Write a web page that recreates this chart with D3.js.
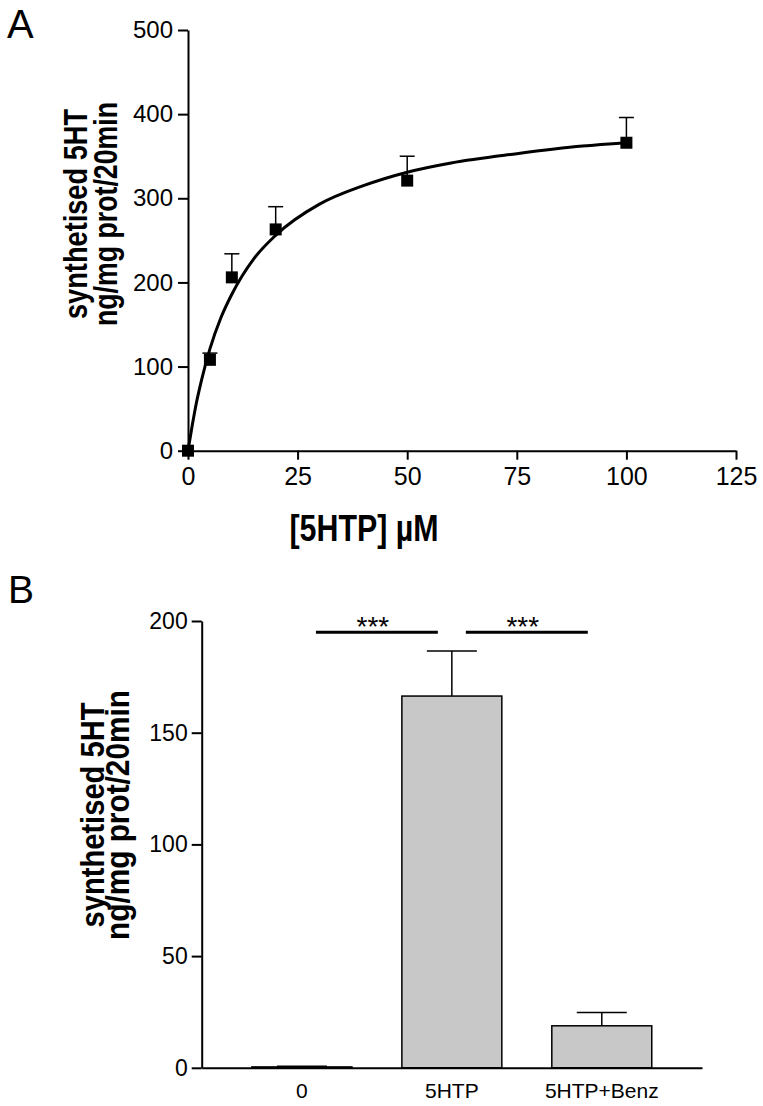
<!DOCTYPE html>
<html>
<head>
<meta charset="utf-8">
<script src="https://cdn.jsdelivr.net/npm/d3@7"></script>
<style>
  body { margin: 0; background: #fff; }
  svg { display: block; font-family: "Liberation Sans", Arial, sans-serif; }
</style>
</head>
<body>
<div id="chart"></div>
<script>
// panel A: 5HT synthesis vs [5HTP]
const concA = [0, 5, 10, 20, 50, 100];
const meanA = [0, 108, 206, 263, 321, 366];
const semA = [0, 8, 28, 27, 29, 30];
// fitted curve
const curveConc = [0, 1, 2, 3, 5, 7.5, 10, 15, 20, 30, 40, 50, 60, 75, 90, 100];
const curveVal = [0, 31, 59, 82, 121, 158, 186, 228, 256, 293, 315, 331, 342, 353, 362, 366];
const ticksAX = [0, 25, 50, 75, 100, 125];
const ticksAY = [0, 100, 200, 300, 400, 500];

// panel B: bars
const groups = ["0", "5HTP", "5HTP+Benz"];
const meanB = [0.4, 166.4, 18.8];
const semB = [0.3, 20.2, 6.0];
const ticksBY = [0, 50, 100, 150, 200];
const sigPairs = [["0", "5HTP"], ["5HTP", "5HTP+Benz"]];
const sigLabel = "***";
const sigValue = 195;

const WIDTH = 763;
const HEIGHT = 1106;

const svg = d3.select("#chart")
  .append("svg")
  .attr("width", WIDTH)
  .attr("height", HEIGHT);

svg.append("rect").attr("width", WIDTH).attr("height", HEIGHT).attr("fill", "#fff");

function styleAxis(g, fontSize) {
  g.select(".domain").attr("stroke", "#000").attr("stroke-width", 2);
  g.selectAll(".tick line").attr("stroke", "#000").attr("stroke-width", 2);
  g.selectAll(".tick text")
    .attr("fill", "#000")
    .attr("font-size", fontSize + "px")
    .attr("font-family", "Liberation Sans, Arial, sans-serif");
}

// narrow bold look of the original: squeeze with textLength
function yTitle(x1, x2, cy, len1, len2) {
  const lines = [["synthetised 5HT", x1, len1], ["ng/mg prot/20min", x2, len2]];
  lines.forEach(([txt, x, len]) => {
    svg.append("text")
      .attr("transform", `translate(${x},${cy}) rotate(-90)`)
      .attr("text-anchor", "middle")
      .attr("font-size", "34px")
      .attr("font-weight", "bold")
      .attr("textLength", len)
      .attr("lengthAdjust", "spacingAndGlyphs")
      .text(txt);
  });
}

// ---------- panel A ----------
const xA = d3.scaleLinear().domain([0, 125]).range([188, 736]);
const yA = d3.scaleLinear().domain([0, 500]).range([450.7, 30]);

const axAY = svg.append("g")
  .attr("transform", `translate(${xA(0)},0)`)
  .call(d3.axisLeft(yA).tickValues(ticksAY).tickSize(10).tickSizeOuter(0).tickPadding(5));
styleAxis(axAY, 24);

const axAX = svg.append("g")
  .attr("transform", `translate(0,${yA(0)})`)
  .call(d3.axisBottom(xA).tickValues(ticksAX).tickSize(9).tickSizeOuter(0).tickPadding(8));
styleAxis(axAX, 25);

const curveData = curveConc.map((c, i) => [c, curveVal[i]]);
svg.append("path")
  .datum(curveData)
  .attr("fill", "none")
  .attr("stroke", "#000")
  .attr("stroke-width", 3)
  .attr("d", d3.line().x((d) => xA(d[0])).y((d) => yA(d[1])).curve(d3.curveMonotoneX));

const ptsA = concA.map((c, i) => ({ c: c, m: meanA[i], s: semA[i] }));
const errA = svg.append("g").selectAll("g").data(ptsA.filter((d) => d.s > 0)).enter().append("g");
errA.append("line")
  .attr("x1", (d) => xA(d.c)).attr("x2", (d) => xA(d.c))
  .attr("y1", (d) => yA(d.m)).attr("y2", (d) => yA(d.m + d.s))
  .attr("stroke", "#000").attr("stroke-width", 1.5);
errA.append("line")
  .attr("x1", (d) => xA(d.c) - 7.5).attr("x2", (d) => xA(d.c) + 7.5)
  .attr("y1", (d) => yA(d.m + d.s)).attr("y2", (d) => yA(d.m + d.s))
  .attr("stroke", "#000").attr("stroke-width", 1.5);

svg.append("g").selectAll("rect").data(ptsA).enter().append("rect")
  .attr("x", (d) => xA(d.c) - 6)
  .attr("y", (d) => yA(d.m) - 6)
  .attr("width", 12)
  .attr("height", 12)
  .attr("fill", "#000");

svg.append("text")
  .attr("x", 364)
  .attr("y", 541)
  .attr("text-anchor", "middle")
  .attr("font-size", "36px")
  .attr("font-weight", "bold")
  .attr("textLength", 149)
  .attr("lengthAdjust", "spacingAndGlyphs")
  .text("[5HTP] \u00b5M");

yTitle(87, 117, 214, 210, 224);

svg.append("text").attr("x", 7).attr("y", 38).attr("font-size", "40px").text("A");

// ---------- panel B ----------
const xB = d3.scaleBand().domain(groups).range([201.7, 702]).paddingInner(1 / 3).paddingOuter(0.335);
const yB = d3.scaleLinear().domain([0, 200]).range([1067.8, 621]);
const bw = xB.bandwidth();

const barsB = groups.map((g, i) => ({ g: g, m: meanB[i], s: semB[i] }));

const errB = svg.append("g").selectAll("g").data(barsB).enter().append("g");
errB.append("line")
  .attr("x1", (d) => xB(d.g) + bw / 2).attr("x2", (d) => xB(d.g) + bw / 2)
  .attr("y1", (d) => yB(d.m)).attr("y2", (d) => yB(d.m + d.s))
  .attr("stroke", "#000").attr("stroke-width", 1.5);
errB.append("line")
  .attr("x1", (d) => xB(d.g) + bw / 4).attr("x2", (d) => xB(d.g) + bw * 3 / 4)
  .attr("y1", (d) => yB(d.m + d.s)).attr("y2", (d) => yB(d.m + d.s))
  .attr("stroke", "#000").attr("stroke-width", 1.5);

svg.append("g").selectAll("rect").data(barsB).enter().append("rect")
  .attr("x", (d) => xB(d.g))
  .attr("y", (d) => yB(d.m))
  .attr("width", bw)
  .attr("height", (d) => yB(0) - yB(d.m))
  .attr("fill", "#c8c8c8")
  .attr("stroke", "#000")
  .attr("stroke-width", 1.5);

const axBY = svg.append("g")
  .attr("transform", `translate(${xB.range()[0]},0)`)
  .call(d3.axisLeft(yB).tickValues(ticksBY).tickSize(10).tickSizeOuter(0).tickPadding(4));
styleAxis(axBY, 23);

const axBX = svg.append("g")
  .attr("transform", `translate(0,${yB(0)})`)
  .call(d3.axisBottom(xB).tickSize(0).tickSizeOuter(0).tickPadding(15));
styleAxis(axBX, 21);

// significance bars
const sigG = svg.append("g").selectAll("g").data(sigPairs).enter().append("g");
sigG.append("line")
  .attr("x1", (d) => xB(d[0]) + bw / 2 + 14)
  .attr("x2", (d) => xB(d[1]) + bw / 2 - 14)
  .attr("y1", yB(sigValue)).attr("y2", yB(sigValue))
  .attr("stroke", "#000").attr("stroke-width", 3);
sigG.append("text")
  .attr("x", (d) => (xB(d[0]) + xB(d[1])) / 2 + bw / 2 - 4)
  .attr("y", yB(sigValue) + 4)
  .attr("text-anchor", "middle")
  .attr("font-size", "28px")
  .text(sigLabel);

yTitle(104, 129, 815, 225, 250);

svg.append("text").attr("x", 8).attr("y", 603).attr("font-size", "39px").text("B");
</script>
</body>
</html>
